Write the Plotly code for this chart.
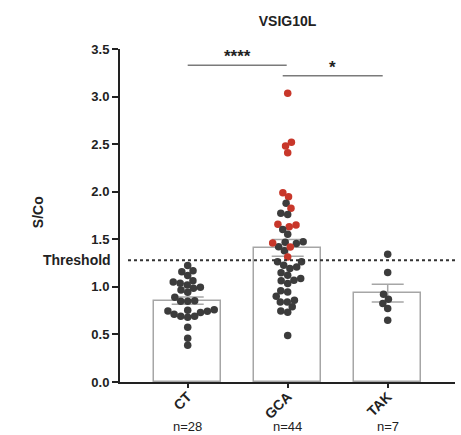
import numpy as np
import plotly.graph_objects as go

# ---------------- data ----------------
groups = ["CT", "GCA", "TAK"]
n_labels = ["n=28", "n=44", "n=7"]

ct_values = [1.225, 1.168, 1.16, 1.12, 1.063, 1.02, 0.997, 0.944, 1.039, 0.986,
             1.05, 0.966, 0.853, 0.85, 0.85, 0.89, 0.747, 0.713, 0.744, 0.69,
             0.73, 0.68, 0.76, 0.69, 0.755, 0.576, 0.46, 0.386]

gca_values = [3.036, 2.52, 2.48, 2.41, 1.99, 1.947, 1.878, 1.825, 1.773, 1.76,
              1.649, 1.657, 1.632, 1.604, 1.552,
              1.474, 1.421, 1.457, 1.38, 1.47, 1.42, 1.46, 1.315,
              1.263, 1.21, 1.036, 1.263, 1.123, 1.063, 0.947, 0.86, 0.747,
              1.193, 1.147, 1.088, 0.958, 0.902, 0.842, 0.79, 0.734,
              1.228, 1.07, 0.842, 0.49]
gca_highlight = [1, 1, 1, 1, 1, 1, 0, 1, 0, 0,
                 1, 1, 1, 0, 0,
                 0, 0, 0, 0, 0, 1, 1, 1,
                 0, 0, 0, 0, 0, 0, 0, 0, 0,
                 0, 0, 0, 0, 0, 0, 0, 0,
                 0, 0, 0, 0]

tak_values = [1.344, 1.152, 0.923, 0.87, 0.825, 0.772, 0.65]

bar_means = [0.856, 1.41, 0.935]
bar_sems = [0.038, 0.088, 0.093]

threshold = 1.28
sig_pairs = [(0, 1), (1, 2)]
sig_labels = ["****", "*"]
sig_heights = [3.33, 3.22]

y_ticks = [0.0, 0.5, 1.0, 1.5, 2.0, 2.5, 3.0, 3.5]

# ---------------- layout constants ----------------
W, H = 461, 435
ML, MR, MT, MB = 120, 6, 49, 53
XR = [-0.677, 2.673]
YR = [0, 3.5]
plot_w = W - ML - MR
plot_h = H - MT - MB
px_x = plot_w / (XR[1] - XR[0])
px_y = plot_h / (YR[1] - YR[0])

FONT = "Arial, Liberation Sans, Helvetica, sans-serif"
DARK = "#3c3c3c"
RED = "#c8372a"
GREY = "#a6a6a6"


def swarm_offsets(values, d_px):
    vals = np.asarray(values, float)
    order = np.argsort(vals, kind="stable")
    placed = []
    offs = np.zeros(len(vals))
    for i in order:
        y = vals[i] * px_y
        intervals = []
        for (px, py) in placed:
            dy = abs(py - y)
            if dy < d_px:
                half = np.sqrt(d_px ** 2 - dy ** 2)
                intervals.append((px - half, px + half))
        cands = [0.0] + [a for a, b in intervals] + [b for a, b in intervals]
        cands.sort(key=lambda c: (round(abs(c), 6), c))
        x = 0.0
        for c in cands:
            if all(not (a + 1e-6 < c < b - 1e-6) for a, b in intervals):
                x = c
                break
        placed.append((x, y))
        offs[i] = x / px_x
    return offs


fig = go.Figure()

fig.add_trace(go.Bar(
    x=list(range(len(groups))), y=bar_means, width=0.67,
    marker=dict(color="white", line=dict(color=GREY, width=1.5)),
    error_y=dict(type="data", array=bar_sems, color=GREY, thickness=1.5, width=16),
    showlegend=False, hoverinfo="skip",
))

all_groups = [ct_values, gca_values, tak_values]
colors_groups = [[DARK] * len(ct_values),
                 [RED if h else DARK for h in gca_highlight],
                 [DARK] * len(tak_values)]
for gi, (vals, cols) in enumerate(zip(all_groups, colors_groups)):
    offs = swarm_offsets(vals, 7.0)
    fig.add_trace(go.Scatter(
        x=gi + offs, y=vals, mode="markers",
        marker=dict(size=7.5, color=cols, line=dict(width=0)),
        showlegend=False, hoverinfo="skip",
    ))

# threshold line
fig.add_shape(type="line", xref="paper", yref="y",
              x0=8 / plot_w, x1=1, y0=threshold, y1=threshold,
              line=dict(color="#333333", width=2, dash="dot"))
fig.add_annotation(text="Threshold", xref="paper", yref="y", x=0, y=threshold,
                   xanchor="right", yanchor="middle", xshift=-7, showarrow=False,
                   font=dict(family=FONT, size=14, color="#222", weight="bold"))

# significance lines
sig_shift = [0.0, -0.05]
for (a, b), lab, h, s in zip(sig_pairs, sig_labels, sig_heights, sig_shift):
    fig.add_shape(type="line", xref="x", yref="y", x0=a + s, x1=b + s - (0.01 if s == 0 else 0),
                  y0=h, y1=h, line=dict(color="#7a7a7a", width=1.5))
    fig.add_annotation(text=lab, xref="x", yref="y", x=(a + b) / 2 + s, y=h,
                       xanchor="center", yanchor="bottom", yshift=-3, showarrow=False,
                       font=dict(family=FONT, size=17, color="#222", weight="bold"))

# n labels
for gi, lab in enumerate(n_labels):
    fig.add_annotation(text=lab, xref="x", yref="paper", x=gi, y=0,
                       xanchor="center", yanchor="middle", yshift=-44, showarrow=False,
                       font=dict(family=FONT, size=13, color="#222"))

# y axis title
fig.add_annotation(text="S/Co", xref="paper", yref="paper", x=0, y=0.51,
                   xanchor="center", yanchor="middle", xshift=-82, textangle=-90,
                   showarrow=False, font=dict(family=FONT, size=14, color="#222", weight="bold"))

fig.update_layout(
    width=W, height=H,
    margin=dict(l=ML, r=MR, t=MT, b=MB),
    paper_bgcolor="white", plot_bgcolor="white",
    title=dict(text="VSIG10L", x=0.5, xref="paper", xanchor="center",
               y=1 - 20.7 / H, yanchor="middle",
               font=dict(family=FONT, size=14, color="#222", weight="bold")),
    xaxis=dict(range=XR, tickvals=list(range(len(groups))), ticktext=groups,
               tickangle=-45, ticks="outside", ticklen=4, tickwidth=2, tickcolor="#222",
               ticklabelstandoff=-5,
               showline=True, linewidth=2, linecolor="#222", showgrid=False, zeroline=False,
               tickfont=dict(family=FONT, size=14, color="#222", weight="bold")),
    yaxis=dict(range=YR, tickvals=y_ticks, tickformat=".1f",
               ticks="outside", ticklen=6, tickwidth=2, tickcolor="#222",
               showline=True, linewidth=2, linecolor="#222", showgrid=False, zeroline=False,
               tickfont=dict(family=FONT, size=13, color="#222", weight="bold")),
    bargap=0,
)

fig.write_html("out.html")
